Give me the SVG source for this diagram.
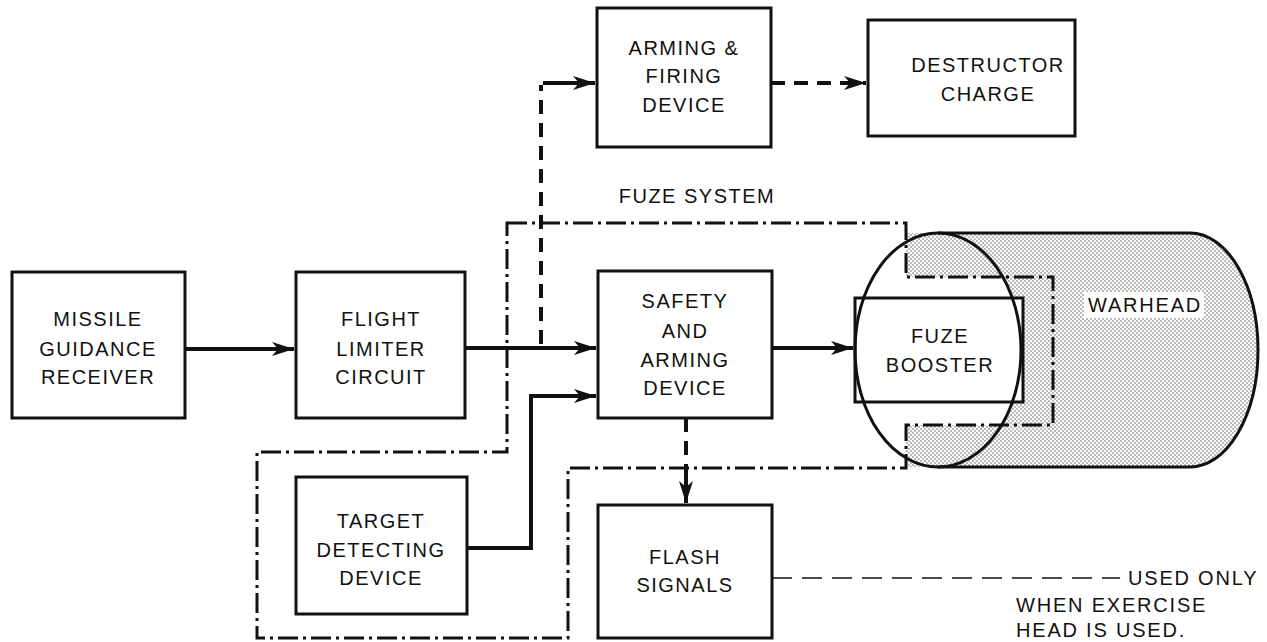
<svg xmlns="http://www.w3.org/2000/svg" width="1267" height="642" viewBox="0 0 1267 642">
<style>
.box{fill:#fff;stroke:#111;stroke-width:3}
.t{font-family:"Liberation Sans",Arial,sans-serif;font-size:20px;fill:#111;text-anchor:middle;letter-spacing:1.5px}
.n{font-family:"Liberation Sans",Arial,sans-serif;font-size:20px;fill:#111;letter-spacing:1.8px}
.solid{fill:none;stroke:#111;stroke-width:4}
.dash{fill:none;stroke:#111;stroke-width:4;stroke-dasharray:14 9}
.dd{fill:none;stroke:#111;stroke-width:3;stroke-dasharray:20 5 3 5}
.thin{fill:none;stroke:#111;stroke-width:1.5;stroke-dasharray:20 10}
</style>
<defs>
<marker id="ah" viewBox="0 0 22 14" refX="22" refY="7" markerWidth="22" markerHeight="14" markerUnits="userSpaceOnUse" orient="auto">
<path d="M0,0 L22,7 L0,14 L6,7 Z" fill="#111"/>
</marker>
<pattern id="stip" width="4" height="4" patternUnits="userSpaceOnUse">
<rect width="4" height="4" fill="#fff"/>
<circle cx="1" cy="1" r="0.75" fill="#555"/>
<circle cx="3" cy="3" r="0.75" fill="#555"/>
</pattern>
<clipPath id="notch"><rect x="906" y="277" width="147" height="148"/></clipPath>
</defs>
<rect width="1267" height="642" fill="#fff"/>

<g id="warhead">
<path d="M906,233 L1190,233 A68,117 0 0 1 1190,467 L906,467 Z" fill="url(#stip)"/>
<ellipse cx="938" cy="350" rx="83" ry="117" fill="#fff" clip-path="url(#notch)"/>
<path d="M938,233 L1190,233 A68,117 0 0 1 1190,467 L938,467" fill="none" stroke="#111" stroke-width="3"/>
<rect x="1084" y="292" width="120" height="26" fill="#fff"/>
<text class="n" x="1088" y="312">WARHEAD</text>
</g>

<g id="fuze-booster">
<rect class="box" x="855" y="298" width="168" height="104"/>
<ellipse cx="938" cy="350" rx="83" ry="117" fill="none" stroke="#111" stroke-width="3"/>
<text class="t" x="940" y="343">FUZE</text>
<text class="t" x="940" y="372">BOOSTER</text>
</g>

<g id="fuze-system">
<path class="dd" d="M507,223 L906,223 L906,277 L1053,277 L1053,425 L906,425 L906,468 L568,468 L568,638 L257,638 L257,452 L507,452 Z"/>
<text class="t" x="697" y="203">FUZE SYSTEM</text>
</g>

<g id="missile-guidance-receiver">
<rect class="box" x="12" y="272" width="173" height="146"/>
<text class="t" x="98" y="326">MISSILE</text>
<text class="t" x="98" y="356">GUIDANCE</text>
<text class="t" x="98" y="384">RECEIVER</text>
</g>

<g id="flight-limiter-circuit">
<rect class="box" x="296" y="272" width="169" height="146"/>
<text class="t" x="381" y="326">FLIGHT</text>
<text class="t" x="381" y="356">LIMITER</text>
<text class="t" x="381" y="384">CIRCUIT</text>
</g>

<g id="safety-and-arming-device">
<rect class="box" x="598" y="271" width="174" height="147"/>
<text class="t" x="685" y="308">SAFETY</text>
<text class="t" x="685" y="338">AND</text>
<text class="t" x="685" y="367">ARMING</text>
<text class="t" x="685" y="395">DEVICE</text>
</g>

<g id="arming-firing-device">
<rect class="box" x="597" y="8" width="174" height="139"/>
<text class="t" x="684" y="55">ARMING &amp;</text>
<text class="t" x="684" y="83">FIRING</text>
<text class="t" x="684" y="112">DEVICE</text>
</g>

<g id="destructor-charge">
<rect class="box" x="868" y="20" width="207" height="116"/>
<text class="t" x="988" y="72">DESTRUCTOR</text>
<text class="t" x="988" y="101">CHARGE</text>
</g>

<g id="target-detecting-device">
<rect class="box" x="296" y="477" width="171" height="137"/>
<text class="t" x="381" y="528">TARGET</text>
<text class="t" x="381" y="557">DETECTING</text>
<text class="t" x="381" y="585">DEVICE</text>
</g>

<g id="flash-signals">
<rect class="box" x="598" y="505" width="174" height="133"/>
<text class="t" x="685" y="564">FLASH</text>
<text class="t" x="685" y="592">SIGNALS</text>
</g>

<g id="note">
<text class="n" x="1128" y="585">USED ONLY</text>
<text class="n" x="1016" y="612">WHEN EXERCISE</text>
<text class="n" x="1016" y="637">HEAD IS USED.</text>
</g>

<g id="connectors">
<path class="solid" d="M185,349 L294,349" marker-end="url(#ah)"/>
<path class="solid" d="M465,348 L596,348" marker-end="url(#ah)"/>
<path class="solid" d="M467,548 L531,548 L531,396 L596,396" marker-end="url(#ah)"/>
<path class="solid" d="M772,348 L853,348" marker-end="url(#ah)"/>
<path class="dash" d="M541,344 L541,85"/>
<path class="solid" d="M543,83 L595,83" marker-end="url(#ah)"/>
<path class="dash" d="M771,83 L866,83" marker-end="url(#ah)"/>
<path class="dash" d="M686,418 L686,467"/>
<path class="solid" d="M686,467 L686,503" marker-end="url(#ah)"/>
<path class="thin" d="M772,578 L1120,578"/>
</g>
</svg>
